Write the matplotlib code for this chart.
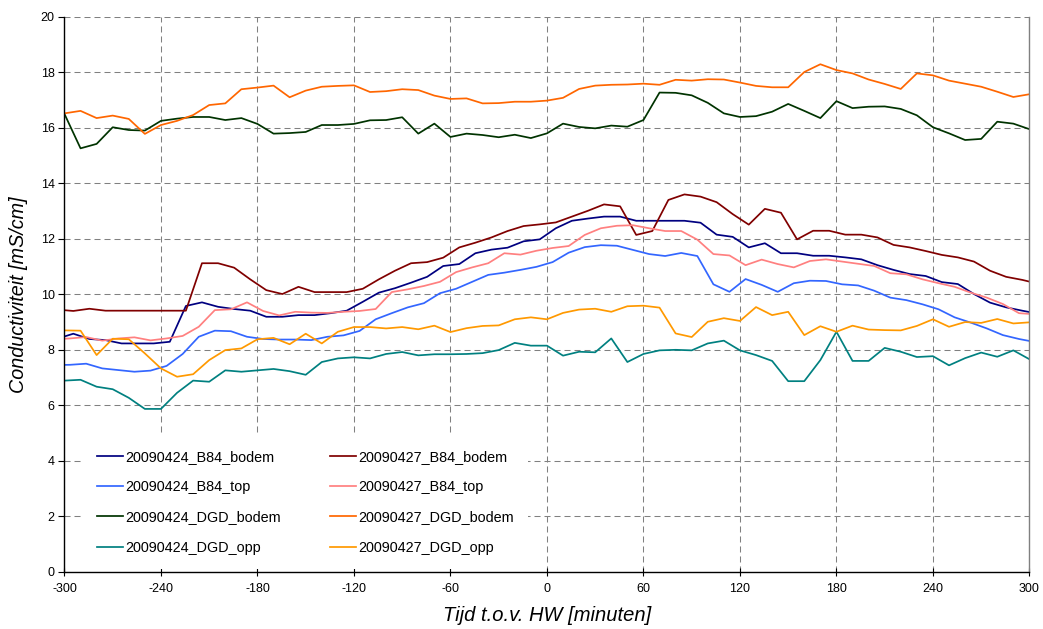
import numpy as np
import matplotlib
matplotlib.use("Agg")
import matplotlib.pyplot as plt

plt.rcParams['font.family'] = ['Liberation Sans', 'DejaVu Sans']

# time axes (minutes relative to HW)
t_dgd = np.arange(-300, 301, 10)
t_bodem = np.arange(-304.5, 306, 10)
t_top = np.arange(-306.5, 304, 10)

b84_bodem_0424 = [8.40, 8.58, 8.39, 8.35, 8.23, 8.23, 8.23, 8.29, 9.58, 9.71,
                  9.55, 9.47, 9.41, 9.19, 9.19, 9.25, 9.25, 9.32, 9.41, 9.73,
                  10.06, 10.22, 10.42, 10.63, 11.02, 11.09, 11.48, 11.61, 11.68, 11.91,
                  11.98, 12.38, 12.65, 12.73, 12.80, 12.80, 12.65, 12.65, 12.65, 12.65,
                  12.58, 12.15, 12.07, 11.69, 11.84, 11.48, 11.48, 11.39, 11.39, 11.33,
                  11.26, 11.05, 10.88, 10.73, 10.66, 10.44, 10.37, 10.01, 9.70, 9.53,
                  9.41, 9.30]
b84_bodem_0427 = [9.45, 9.40, 9.48, 9.41, 9.41, 9.41, 9.41, 9.41, 9.41, 11.12,
                  11.12, 10.96, 10.54, 10.15, 10.01, 10.27, 10.08, 10.08, 10.08, 10.20,
                  10.54, 10.85, 11.12, 11.16, 11.32, 11.69, 11.86, 12.05, 12.28, 12.46,
                  12.52, 12.59, 12.80, 13.01, 13.24, 13.17, 12.14, 12.28, 13.40, 13.60,
                  13.52, 13.32, 12.89, 12.51, 13.08, 12.94, 11.98, 12.29, 12.29, 12.15,
                  12.15, 12.05, 11.78, 11.69, 11.56, 11.42, 11.33, 11.18, 10.85, 10.63,
                  10.52, 10.38]
b84_top_0424 = [7.45, 7.46, 7.50, 7.33, 7.27, 7.21, 7.25, 7.42, 7.85, 8.47,
                8.69, 8.67, 8.47, 8.39, 8.37, 8.37, 8.35, 8.47, 8.52, 8.68,
                9.10, 9.32, 9.53, 9.68, 10.04, 10.20, 10.45, 10.70, 10.78, 10.88,
                10.99, 11.16, 11.50, 11.70, 11.77, 11.75, 11.60, 11.45, 11.38, 11.49,
                11.38, 10.36, 10.09, 10.55, 10.34, 10.09, 10.40, 10.49, 10.48, 10.36,
                10.32, 10.13, 9.88, 9.79, 9.64, 9.46, 9.17, 8.98, 8.77, 8.53,
                8.39, 8.28]
b84_top_0427 = [8.38, 8.41, 8.46, 8.33, 8.41, 8.45, 8.34, 8.41, 8.50, 8.83,
                9.43, 9.46, 9.71, 9.40, 9.24, 9.37, 9.34, 9.33, 9.37, 9.40,
                9.47, 10.08, 10.18, 10.30, 10.45, 10.80, 10.97, 11.12, 11.48, 11.43,
                11.57, 11.67, 11.74, 12.14, 12.38, 12.47, 12.49, 12.38, 12.28, 12.28,
                11.97, 11.45, 11.40, 11.05, 11.25, 11.09, 10.97, 11.20, 11.26, 11.18,
                11.10, 11.02, 10.76, 10.72, 10.54, 10.40, 10.27, 10.06, 9.88, 9.65,
                9.32, 9.28]
dgd_bodem_0424 = [16.50, 15.26, 15.42, 16.02, 15.92, 15.90, 16.25, 16.33, 16.39, 16.39,
                  16.28, 16.35, 16.14, 15.79, 15.81, 15.85, 16.10, 16.10, 16.14, 16.27,
                  16.28, 16.38, 15.79, 16.15, 15.67, 15.79, 15.74, 15.66, 15.75, 15.63,
                  15.80, 16.15, 16.03, 15.98, 16.08, 16.04, 16.28, 17.27, 17.26, 17.17,
                  16.90, 16.52, 16.39, 16.42, 16.58, 16.86, 16.61, 16.35, 16.96, 16.71,
                  16.76, 16.77, 16.68, 16.45, 16.02, 15.80, 15.56, 15.60, 16.22, 16.15,
                  15.95]
dgd_bodem_0427 = [16.52, 16.61, 16.35, 16.44, 16.32, 15.78, 16.10, 16.25, 16.46, 16.82,
                  16.88, 17.39, 17.45, 17.52, 17.10, 17.34, 17.48, 17.51, 17.53, 17.29,
                  17.32, 17.39, 17.36, 17.16, 17.04, 17.06, 16.88, 16.89, 16.94, 16.94,
                  16.98, 17.08, 17.40, 17.52, 17.55, 17.56, 17.59, 17.55, 17.73, 17.70,
                  17.75, 17.74, 17.63, 17.51, 17.46, 17.46, 18.01, 18.29, 18.08, 17.96,
                  17.74, 17.58, 17.40, 17.96, 17.89, 17.70, 17.59, 17.48, 17.30, 17.11,
                  17.21]
dgd_opp_0424 = [6.89, 6.92, 6.67, 6.58, 6.27, 5.87, 5.87, 6.45, 6.89, 6.85,
                7.26, 7.21, 7.26, 7.31, 7.23, 7.10, 7.56, 7.69, 7.73, 7.69,
                7.85, 7.92, 7.80, 7.84, 7.84, 7.85, 7.88, 7.99, 8.25, 8.15,
                8.15, 7.79, 7.93, 7.91, 8.41, 7.56, 7.85, 7.98, 8.00, 7.98,
                8.23, 8.33, 7.98, 7.81, 7.60, 6.87, 6.87, 7.63, 8.65, 7.60,
                7.60, 8.07, 7.93, 7.74, 7.77, 7.44, 7.70, 7.90, 7.75, 7.98,
                7.66]
dgd_opp_0427 = [8.70, 8.69, 7.81, 8.40, 8.38, 7.87, 7.33, 7.03, 7.12, 7.63,
                7.99, 8.05, 8.38, 8.43, 8.20, 8.58, 8.23, 8.65, 8.82, 8.82,
                8.77, 8.82, 8.74, 8.87, 8.64, 8.78, 8.86, 8.88, 9.10, 9.17,
                9.10, 9.33, 9.45, 9.48, 9.37, 9.57, 9.59, 9.52, 8.59, 8.46,
                9.01, 9.14, 9.04, 9.54, 9.25, 9.37, 8.53, 8.85, 8.65, 8.87,
                8.73, 8.71, 8.70, 8.86, 9.10, 8.83, 9.00, 8.97, 9.11, 8.95,
                8.99]

series = [
    ("20090424_B84_bodem", t_bodem, b84_bodem_0424, "#000080"),
    ("20090424_B84_top", t_top, b84_top_0424, "#3366FF"),
    ("20090424_DGD_bodem", t_dgd, dgd_bodem_0424, "#003300"),
    ("20090424_DGD_opp", t_dgd, dgd_opp_0424, "#008080"),
    ("20090427_B84_bodem", t_bodem, b84_bodem_0427, "#800000"),
    ("20090427_B84_top", t_top, b84_top_0427, "#FF8080"),
    ("20090427_DGD_bodem", t_dgd, dgd_bodem_0427, "#FF6600"),
    ("20090427_DGD_opp", t_dgd, dgd_opp_0427, "#FF9900"),
]

xticks = np.arange(-300, 301, 60)
yticks = np.arange(0, 21, 2)

fig = plt.figure(figsize=(10.43, 6.29), dpi=100)
ax = fig.add_axes([0.0618, 0.0909, 0.9252, 0.8824])

for name, t, v, c in series:
    ax.plot(t, v, color=c, lw=1.25, label=name)

ax.set_xlim(-300, 300)
ax.set_ylim(0, 20)
ax.set_xticks(xticks)
ax.set_yticks(yticks)
ax.set_xticklabels([str(x) for x in xticks], fontsize=9)
ax.set_yticklabels([str(y) for y in yticks], fontsize=9)
ax.grid(True, color="#808080", lw=0.75, linestyle=(0, (5.8, 3.8)))
ax.set_axisbelow(True)

ax.spines['top'].set_visible(False)
ax.spines['right'].set_color("#808080")
ax.spines['right'].set_linewidth(1.0)
ax.spines['left'].set_linewidth(1.0)
ax.spines['bottom'].set_linewidth(1.0)
ax.tick_params(axis='y', direction='out', length=4, width=0.8, pad=3)
ax.tick_params(axis='x', direction='inout', length=6, width=0.8, pad=5)

ax.set_xlabel("Tijd t.o.v. HW [minuten]", fontsize=14.5, style='italic', labelpad=8)
ax.set_ylabel("Conductiviteit [mS/cm]", fontsize=14.2, style='italic', labelpad=9)

leg = ax.legend(loc='upper left', bbox_to_anchor=(0.020, 0.245), ncol=2,
                fontsize=10.4, frameon=True, facecolor='white', edgecolor='none',
                framealpha=1.0, fancybox=False, handlelength=1.75, handletextpad=0.2,
                columnspacing=3.4, labelspacing=1.14, borderpad=0.95, borderaxespad=0)
leg.set_zorder(5)

fig.savefig("out.png", dpi=100)
